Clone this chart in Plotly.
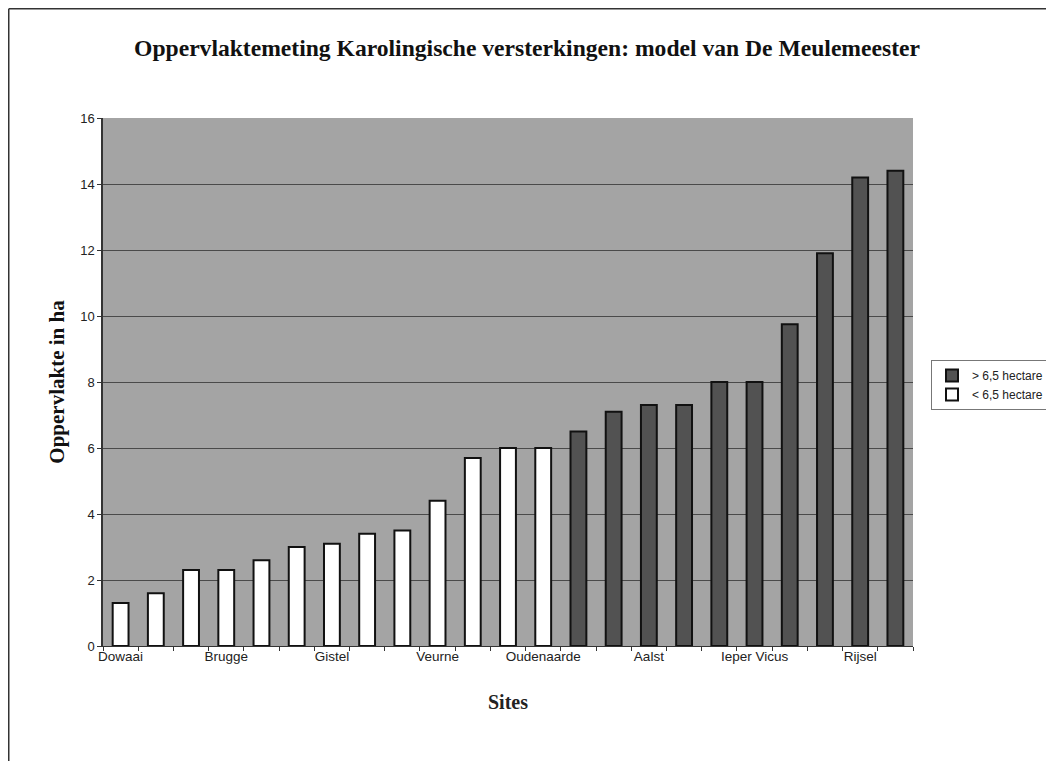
import plotly.graph_objects as go

# Data
tick_labels = ["Dowaai", "Brugge", "Gistel", "Veurne", "Oudenaarde", "Aalst", "Ieper Vicus", "Rijsel"]
tick_positions = [0, 3, 6, 9, 12, 15, 18, 21]
small_values = [1.3, 1.6, 2.3, 2.3, 2.6, 3.0, 3.1, 3.4, 3.5, 4.4, 5.7, 6.0, 6.0]   # < 6,5 hectare
large_values = [6.5, 7.1, 7.3, 7.3, 8.0, 8.0, 9.75, 11.9, 14.2, 14.4]           # > 6,5 hectare

small_x = list(range(len(small_values)))
large_x = list(range(len(small_values), len(small_values) + len(large_values)))
n_cat = len(small_values) + len(large_values)
boundaries = [i - 0.5 for i in range(n_cat + 1)]

SERIF = "Liberation Serif, Times New Roman, serif"
SANS = "Liberation Sans, Arial, sans-serif"

fig = go.Figure()
fig.add_trace(go.Bar(
    x=large_x, y=large_values, name="> 6,5 hectare", width=0.45,
    marker=dict(color="#525252", line=dict(color="#111111", width=2)),
    xaxis="x", yaxis="y",
))
fig.add_trace(go.Bar(
    x=small_x, y=small_values, name="< 6,5 hectare", width=0.45,
    marker=dict(color="#ffffff", line=dict(color="#111111", width=2)),
    xaxis="x2", yaxis="y",
))

# plot area in figure pixels (page is offset by 8px body margin)
L, R, T, B = 95, 905, 110, 638
W, H = 1054, 761

fig.update_layout(
    width=W, height=H,
    margin=dict(l=L, r=W - R, t=T, b=H - B, autoexpand=False),
    paper_bgcolor="white",
    plot_bgcolor="#a4a4a4",
    barmode="overlay",
    title=dict(
        text="<b>Oppervlaktemeting Karolingische versterkingen: model van De Meulemeester</b>",
        x=519 / W, xref="container", xanchor="center",
        y=1 - 40 / H, yref="container", yanchor="middle",
        font=dict(family=SERIF, size=23.6, color="#111111"),
    ),
    legend=dict(
        x=(923 - L) / (R - L), y=(B - 352) / (B - T), xanchor="left", yanchor="top",
        bordercolor="#777777", borderwidth=1, bgcolor="white",
        font=dict(family=SANS, size=12, color="#222222"),
        traceorder="normal", itemwidth=30, tracegroupgap=0,
    ),
    # axis carrying the boundary tick marks, the line and the title
    xaxis=dict(
        range=[-0.5, n_cat - 0.5],
        tickmode="array", tickvals=boundaries, ticktext=[""] * len(boundaries),
        showgrid=False, zeroline=False,
        showline=True, linecolor="#333333", linewidth=1,
        ticks="outside", ticklen=4, tickcolor="#333333",
        tickfont=dict(family=SANS, size=13.5, color="#222222"),
        title=dict(text="<b>Sites</b>", standoff=42,
                   font=dict(family=SERIF, size=20, color="#222222")),
    ),
    # overlaid axis carrying the site labels
    xaxis2=dict(
        overlaying="x", anchor="y", side="bottom", matches="x",
        range=[-0.5, n_cat - 0.5],
        tickmode="array", tickvals=tick_positions, ticktext=tick_labels,
        showgrid=False, zeroline=False, showline=False, ticks="",
        tickfont=dict(family=SANS, size=13.5, color="#222222"),
    ),
    yaxis=dict(
        range=[0, 16], dtick=2,
        showgrid=True, gridcolor="#4a4a4a", gridwidth=1,
        zeroline=False,
        showline=True, linecolor="#333333", linewidth=1.5,
        ticks="outside", ticklen=4, tickcolor="#333333",
        tickfont=dict(family=SANS, size=13, color="#222222"),
        title=dict(text="<b>Oppervlakte in ha</b>", standoff=10,
                   font=dict(family=SERIF, size=21, color="#111111")),
    ),
)

# outer frame of the chart page (left and top edges)
fx = (0.75 - L) / (R - L)
fy_top = (B - 0.75) / (B - T)
fy_bot = (B - H) / (B - T)
fx_right = (W - L) / (R - L)
fig.add_shape(type="line", xref="paper", yref="paper",
              x0=fx, x1=fx, y0=fy_top, y1=fy_bot,
              line=dict(color="#333333", width=1.5))
fig.add_shape(type="line", xref="paper", yref="paper",
              x0=fx, x1=fx_right, y0=fy_top, y1=fy_top,
              line=dict(color="#333333", width=1.5))

fig.write_html("out.html")
